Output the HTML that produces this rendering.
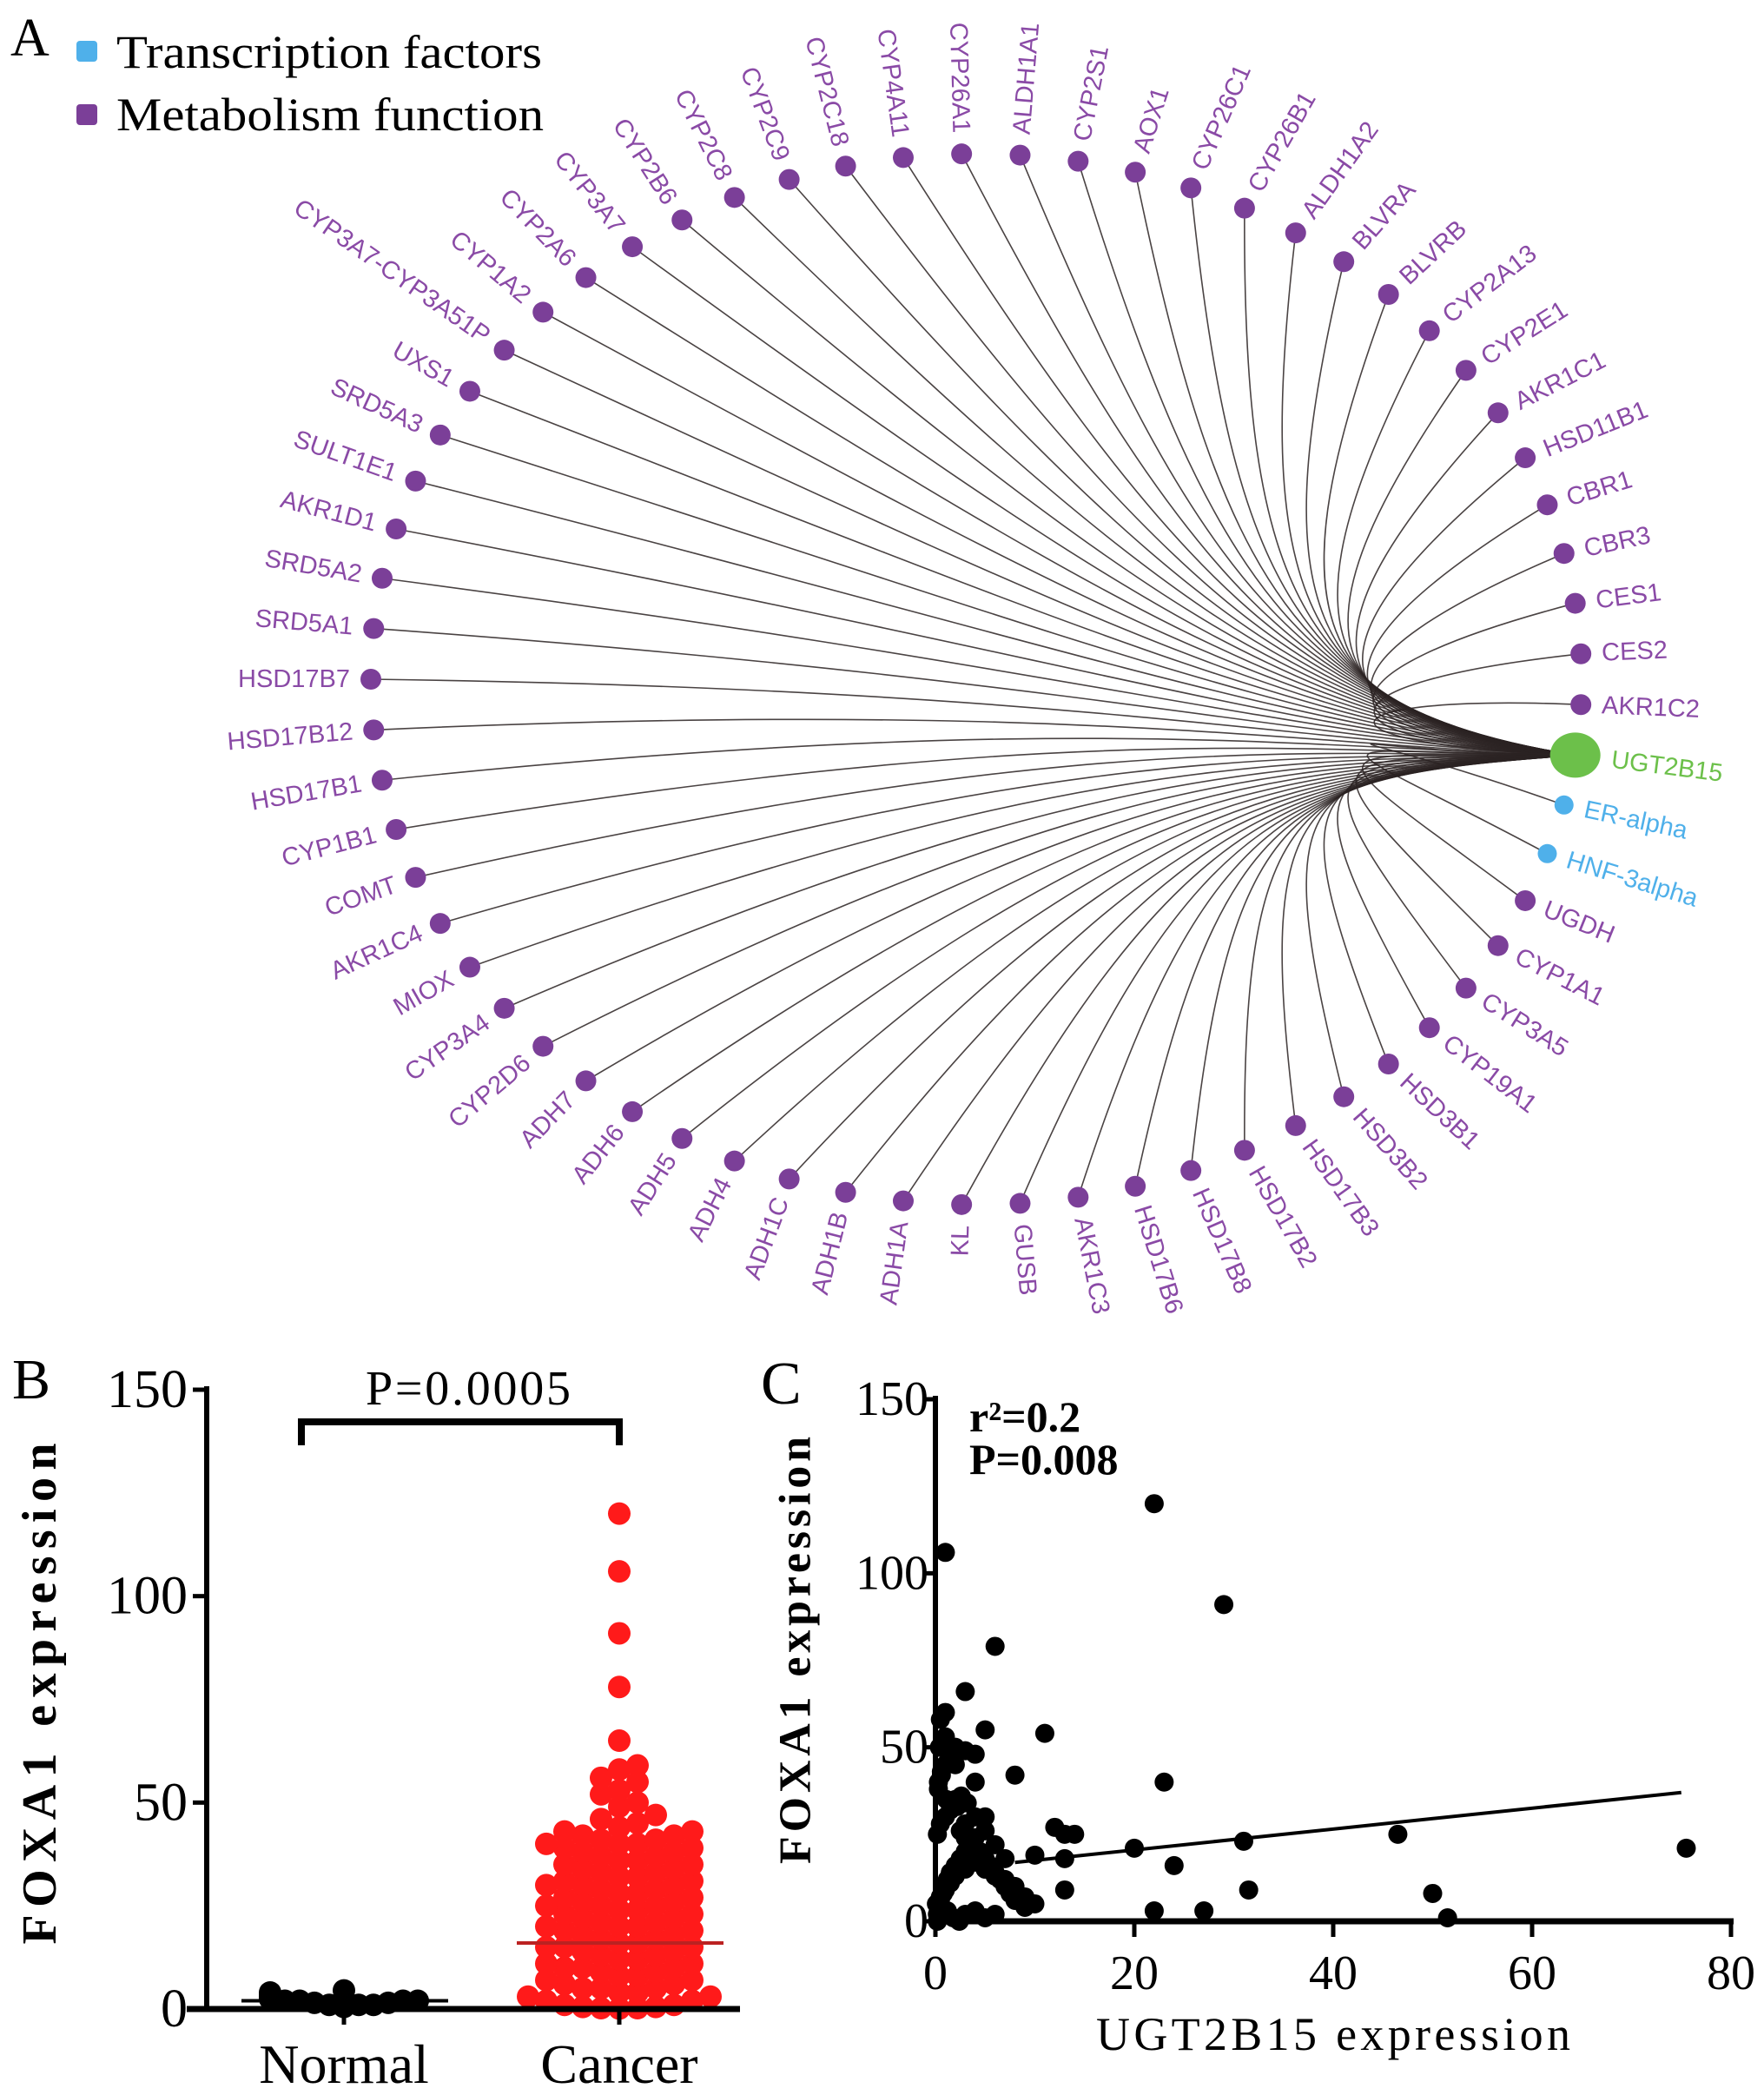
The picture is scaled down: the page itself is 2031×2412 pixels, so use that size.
<!DOCTYPE html>
<html><head><meta charset="utf-8"><style>
html,body{margin:0;padding:0;background:#fff}
svg{display:block}
.serif{font-family:"Liberation Serif",serif}
.sans{font-family:"Liberation Sans",sans-serif}
</style></head><body>
<svg id="fig" width="2031" height="2412" viewBox="0 0 2031 2412" xmlns="http://www.w3.org/2000/svg">
<g id="panelA">
<text class="serif" x="12" y="64" font-size="62">A</text>
<rect x="88" y="47" width="24" height="24" rx="4" fill="#4fb0ea"/>
<text class="serif" x="134" y="78" font-size="54" textLength="490" lengthAdjust="spacingAndGlyphs">Transcription factors</text>
<rect x="88" y="120" width="24" height="24" rx="4" fill="#7b3f98"/>
<text class="serif" x="134" y="150" font-size="54" textLength="492" lengthAdjust="spacingAndGlyphs">Metabolism function</text>
<g id="edges"></g><g id="nodes"></g>
</g>
<g id="panelB"></g>
<g id="panelC"></g>
</svg>
<script>
const NS="http://www.w3.org/2000/svg";
function mk(tag,attrs,parent,txt){const e=document.createElementNS(NS,tag);for(const k in attrs)e.setAttribute(k,attrs[k]);if(txt!==undefined)e.textContent=txt;parent.appendChild(e);return e;}

// ---------- Panel A data ----------
const genes=["HSD17B7","SRD5A1","SRD5A2","AKR1D1","SULT1E1","SRD5A3","UXS1","CYP3A7-CYP3A51P","CYP1A2","CYP2A6","CYP3A7","CYP2B6","CYP2C8","CYP2C9","CYP2C18","CYP4A11","CYP26A1","ALDH1A1","CYP2S1","AOX1","CYP26C1","CYP26B1","ALDH1A2","BLVRA","BLVRB","CYP2A13","CYP2E1","AKR1C1","HSD11B1","CBR1","CBR3","CES1","CES2","AKR1C2","UGT2B15","ER-alpha","HNF-3alpha","UGDH","CYP1A1","CYP3A5","CYP19A1","HSD3B1","HSD3B2","HSD17B3","HSD17B2","HSD17B8","HSD17B6","AKR1C3","GUSB","KL","ADH1A","ADH1B","ADH1C","ADH4","ADH5","ADH6","ADH7","CYP2D6","CYP3A4","MIOX","AKR1C4","COMT","CYP1B1","HSD17B1","HSD17B12"];
const geneType=genes.map(g=>g==="UGT2B15"?"hub":(g==="ER-alpha"||g==="HNF-3alpha")?"tf":"met");
const typeColor={hub:"#6cc04a",tf:"#4fb0ea",met:"#7b3f98"};
const labelColor={hub:"#6cc04a",tf:"#4fb0ea",met:"#8a4aa6"};
(function(){
  const cx=1124,cy=782,rx=697,ry=605,n=genes.length;
  const eg=document.getElementById('edges'),ng=document.getElementById('nodes');
  const pos=genes.map((g,i)=>{const t=(180-i*360/n)*Math.PI/180;return [cx+rx*Math.cos(t),cy-ry*Math.sin(t)];});
  const hi=genes.indexOf("UGT2B15");const H=pos[hi];
  const B=[1430,795];
  genes.forEach((g,i)=>{
    if(i===hi)return;
    const P=pos[i];
    const c1=[1500,H[1]-8+(P[1]-H[1])*0.06];
    const c2=[B[0]+(P[0]-B[0])*0.2,B[1]+(P[1]-B[1])*0.2];
    const p=mk('path',{d:`M${H[0]},${H[1]} C${c1[0]},${c1[1]} ${c2[0]},${c2[1]} ${P[0]},${P[1]}`,fill:'none',stroke:'#2a2222','stroke-width':1.6,'stroke-opacity':0.85},eg);
    
    
  });
  genes.forEach((g,i)=>{
    const P=pos[i],ty=geneType[i];
    const c=ty==='hub'?mk('ellipse',{cx:P[0],cy:P[1],rx:29,ry:26,fill:typeColor[ty]},ng):mk('circle',{cx:P[0],cy:P[1],r:ty==='tf'?11:12,fill:typeColor[ty]},ng);
    
    
    const phi=Math.atan2(P[1]-cy,P[0]-cx)*180/Math.PI;
    const right=Math.cos(phi*Math.PI/180)>=0;
    const off=ty==='hub'?42:24;
    const tx=P[0]+off*Math.cos(phi*Math.PI/180),tyy=P[1]+off*Math.sin(phi*Math.PI/180);
    const rot=right?phi:phi+180;
    const t=mk('text',{class:'sans',x:tx,y:tyy,'font-size':29,fill:labelColor[ty],'text-anchor':right?'start':'end','dominant-baseline':'central',transform:`rotate(${rot} ${tx} ${tyy})`},ng,g);
    
    
  });
})();

// ---------- Panel B data ----------
const bCategories=["Normal","Cancer"];
const bTicks=[0,50,100,150];
const normalValues=[0.5,1,1,1.5,1.5,2,2,2,2.5,2.5,3,3,3.5,4,4.5,1,2,3];
const cancerValues=[120,106,91,78,65,59,58,56,55,53,52,50,49,47,46,45,44,43,43,42,42,41,41,40,40,40,39,39,38,38,37,37,36,36,35,35,34,34,33,33,32,32,31,31,30,30,30,29,29,28,28,27,27,26,26,25,25,25,24,24,23,23,22,22,21,21,20,20,20,19,19,18,18,17,17,16,16,15,15,15,14,14,13,13,12,12,11,11,10,10,10,9,9,8,8,7,7,6,6,5,5,5,4,4,3,3,2,2,1,1,0.5,0.5,0.2,0.2,0.1];
const bMeans=[2,16];
const bPvalue="P=0.0005";
(function(){
  const g=document.getElementById('panelB');
  const X0=238,Y0=2313,Y150=1600;
  const ys=v=>Y0-(v/150)*(Y0-Y150);
  const xc=[396,713];
  let e;
  e=mk('text',{class:'serif',x:14,y:1610,'font-size':66},g,'B');
  e=mk('line',{x1:X0,y1:Y150-4,x2:X0,y2:Y0+3,stroke:'#000','stroke-width':6},g);
  bTicks.forEach(v=>{
    e=mk('line',{x1:X0-16,y1:ys(v),x2:X0,y2:ys(v),stroke:'#000','stroke-width':5},g);
    e=mk('text',{class:'serif',x:X0-22,y:ys(v),'font-size':62,'text-anchor':'end','dominant-baseline':'central'},g,String(v));
  });
  e=mk('text',{class:'serif','font-weight':'bold',x:0,y:0,'font-size':56,'text-anchor':'middle','dominant-baseline':'central',textLength:577,transform:'translate(46 1950) rotate(-90)'},g,'FOXA1 expression');
  e=mk('path',{d:`M${xc[0]-49},${1664} L${xc[0]-49},${1637} L${xc[1]},${1637} L${xc[1]},${1664}`,fill:'none',stroke:'#000','stroke-width':8},g);
  e=mk('text',{class:'serif',x:539,y:1617,'font-size':56,'text-anchor':'middle',textLength:236},g,bPvalue);
  const r=13;
  [normalValues,cancerValues].forEach((vals,ci)=>{
    const placed=[];const col=ci===0?'#000':'#ff1a1a';
    const sorted=vals.slice().sort((a,b)=>a-b);
    sorted.forEach(v=>{
      const y=ys(v);let xx=xc[ci];
      const maxk=ci===0?5:5;
      const step=ci===0?17:21;
      for(let k=0;k<=2*maxk;k++){
        const s=k===0?0:(k%2?1:-1)*Math.ceil(k/2);
        const cand=xc[ci]+s*step;
        if(placed.every(p=>Math.hypot(p[0]-cand,p[1]-y)>=2*r*0.65)){xx=cand;break;}
        if(k===2*maxk)xx=cand;
      }
      placed.push([xx,y]);
      const d=mk('circle',{cx:xx,cy:y,r:r,fill:col},g);
      
      
    });
    const m=mk('line',{x1:xc[ci]-118,x2:xc[ci]+120,y1:ys(bMeans[ci]),y2:ys(bMeans[ci]),stroke:ci===0?'#000':'#b22',"stroke-width":4},g);
    
    
  });
  e=mk('line',{x1:215,y1:Y0,x2:852,y2:Y0,stroke:'#000','stroke-width':7},g);
  bCategories.forEach((c,i)=>{
    e=mk('line',{x1:xc[i],y1:Y0,x2:xc[i],y2:Y0+18,stroke:'#000','stroke-width':5},g);
    e=mk('text',{class:'serif',x:xc[i],y:2398,'font-size':64,'text-anchor':'middle'},g,c);
  });
})();

// ---------- Panel C data ----------
const cXTicks=[0,20,40,60,80];
const cYTicks=[0,50,100,150];
const ugtValues=[22,1,29,6,3,1,0.5,5,11,1,3,4,8,23,4,5,12,13,14,20,31,46.5,75.5,24,13,10,31.5,13,50,22,27,51.5,10,
0.2,0.3,0.5,0.8,1,1.2,1.5,2,2.5,3,3.5,4,4.5,5,5.5,6,6.5,7,7.5,8,9,
0.2,0.5,1,1.5,2,2.5,3,3.5,4,5,6,7,8,
0.3,0.6,1,1.4,2,2.6,3.2,4,5,6,7,
0.2,0.4,0.8,1.2,1.8,2.4,3,4,5,6,
0.1,0.5,1,1.5,2,3,4,5,6,7,8,9,
0.3,0.7,1.1,1.6,2.2,3,0.4,1,2,0.6];
const foxaValues=[120,106,91,79,66,60,58,55,54,53,49,48,42,40,40,30,27,25,25,21,23,25,21,16,18,19,9,9,8,3,3,1,5,
2,4,6,8,10,12,14,16,18,20,22,24,20,18,16,14,12,10,8,6,4,
25,28,30,32,35,26,24,22,20,15,14,12,10,
38,42,45,48,50,36,34,30,26,22,18,
0,1,2,3,1,0,2,3,1,2,
5,7,9,11,13,15,17,15,13,11,9,7,
40,44,35,46,33,28,50,52,45,43];
const cFitIntercept=14.5, cFitSlope=0.3, cFitRange=[8,75];
const cStats=["r²=0.2","P=0.008"];
(function(){
  const g=document.getElementById('panelC');
  const X0=1077,X80=1993,Y0=2212,Y150=1611;
  const xs=v=>X0+(v/80)*(X80-X0), ys=v=>Y0-(v/150)*(Y0-Y150);
  let e;
  e=mk('text',{class:'serif',x:876,y:1616,'font-size':70},g,'C');
  e=mk('line',{x1:X0,y1:Y150-4,x2:X0,y2:Y0+3,stroke:'#000','stroke-width':6},g);
  cYTicks.forEach(v=>{
    e=mk('line',{x1:X0-14,y1:ys(v),x2:X0,y2:ys(v),stroke:'#000','stroke-width':5},g);
    e=mk('text',{class:'serif',x:X0-8,y:ys(v),'font-size':56,'text-anchor':'end','dominant-baseline':'central'},g,String(v));
  });
  e=mk('line',{x1:X0-3,y1:Y0,x2:X80+3,y2:Y0,stroke:'#000','stroke-width':7},g);
  cXTicks.forEach(v=>{
    e=mk('line',{x1:xs(v),y1:Y0,x2:xs(v),y2:Y0+18,stroke:'#000','stroke-width':5},g);
    e=mk('text',{class:'serif',x:xs(v),y:2290,'font-size':56,'text-anchor':'middle'},g,String(v));
  });
  e=mk('text',{class:'serif',x:1535,y:2360,'font-size':54,'text-anchor':'middle',textLength:546},g,'UGT2B15 expression');
  e=mk('text',{class:'serif','font-weight':'bold',x:0,y:0,'font-size':52,'text-anchor':'middle','dominant-baseline':'central',textLength:492,transform:'translate(916 1900) rotate(-90)'},g,'FOXA1 expression');
  e=mk('text',{class:'serif','font-weight':'bold',x:1116,y:1648,'font-size':50},g,cStats[0]);
  e=mk('text',{class:'serif','font-weight':'bold',x:1116,y:1697,'font-size':50},g,cStats[1]);
  ugtValues.forEach((u,i)=>{
    const d=mk('circle',{cx:xs(u),cy:ys(foxaValues[i]),r:11,fill:'#000'},g);
    
    
  });
  e=mk('line',{x1:xs(cFitRange[0]),y1:ys(cFitIntercept+cFitSlope*cFitRange[0]),x2:xs(cFitRange[1]),y2:ys(cFitIntercept+cFitSlope*cFitRange[1]),stroke:'#000','stroke-width':4},g);
  
  
})();
</script>
</body></html>
